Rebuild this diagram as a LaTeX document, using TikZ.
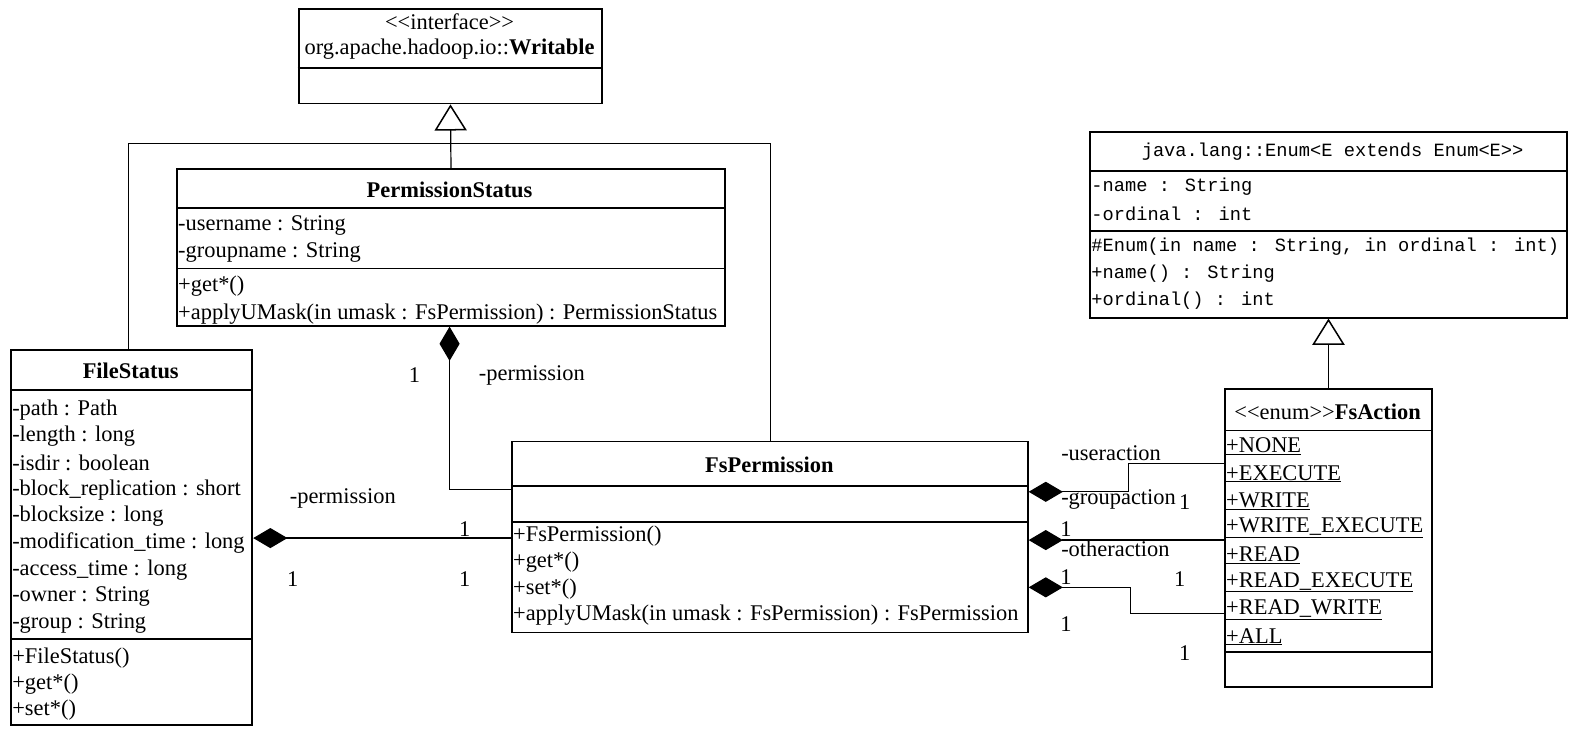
\documentclass[tikz,border=0pt]{standalone}
\usepackage{fontspec}
\setmainfont{Liberation Serif}
\newfontfamily\monof{Liberation Mono}
\usetikzlibrary{arrows.meta}
\newcommand\serifsz{\fontsize{22.3}{26}\selectfont}
\newcommand\monosz{\monof\fontsize{18.6}{23}\selectfont}
\newcommand\lt{<\kern0pt<}
\newcommand\gt{>\kern0pt>}
\begin{document}
\begin{tikzpicture}[x=1pt,y=-1pt,
  cls/.style={draw, line width=1.8pt, inner sep=0pt, anchor=north west},
  sep/.style={line width=1.8pt},
  conn/.style={line width=1.2pt},
  txt/.style={anchor=west, inner sep=0pt, font=\serifsz, yshift=-2pt},
  ctxt/.style={inner sep=0pt, font=\serifsz, yshift=-2pt},
  ttl/.style={inner sep=0pt, font=\serifsz\bfseries, yshift=-2pt},
  mono/.style={anchor=west, inner sep=0pt, font=\monosz, yshift=-1pt},
  gen/.style={conn, -{Triangle[open, length=26pt, width=32pt, line width=1.5pt]}},
  comp/.style={conn, {Diamond[length=34pt, width=20pt]}-},
]
\useasboundingbox (0,0) rectangle (1568,730);

% ---------- Writable ----------
\node[cls, minimum width=302pt, minimum height=94pt] (writ) at (296,8) {};
\draw[sep] (writ.west |- 0,68) -- (writ.east |- 0,68);
\node[ctxt] (writs) at (447,20) {\lt interface\gt};
\node[ctxt] (writn) at (447,47) {org.apache.hadoop.io::\textbf{Writable}};

% ---------- PermissionStatus ----------
\node[cls, minimum width=545pt, minimum height=156pt] (pstat) at (175,167) {};
\draw[sep] (pstat.west |- 0,207) -- (pstat.east |- 0,207);
\draw[sep] (pstat.west |- 0,267) -- (pstat.east |- 0,267);
\node[ttl] (pstatt) at (447,187) {PermissionStatus};
\node[txt] (ps1) at (177,222) {-username : String};
\node[txt] (ps2) at (177,249) {-groupname : String};
\node[txt] (ps3) at (177,283) {+get*()};
\node[txt] (ps4) at (177,310) {+applyUMask(in umask : FsPermission) : PermissionStatus};

% ---------- FileStatus ----------
\node[cls, minimum width=240pt, minimum height=373pt] (fstat) at (10,347) {};
\draw[sep] (fstat.west |- 0,388) -- (fstat.east |- 0,388);
\draw[sep] (fstat.west |- 0,635) -- (fstat.east |- 0,635);
\node[ttl] (fstatt) at (130,367) {FileStatus};
\node[txt] (fs1) at (12,406) {-path : Path};
\node[txt] (fs2) at (12,432) {-length : long};
\node[txt] (fs3) at (12,458) {-isdir : boolean};
\node[txt] (fs4) at (12,485) {-block\_replication : short};
\node[txt] (fs5) at (12,511) {-blocksize : long};
\node[txt] (fs6) at (12,538) {-modification\_time : long};
\node[txt] (fs7) at (12,565) {-access\_time : long};
\node[txt] (fs8) at (12,591) {-owner : String};
\node[txt] (fs9) at (12,618) {-group : String};
\node[txt] (fs10) at (12,652) {+FileStatus()};
\node[txt] (fs11) at (12,678) {+get*()};
\node[txt] (fs12) at (12,704) {+set*()};

% ---------- FsPermission ----------
\node[cls, minimum width=513pt, minimum height=190pt] (fsperm) at (508,438) {};
\draw[sep] (fsperm.west |- 0,483) -- (fsperm.east |- 0,483);
\draw[sep] (fsperm.west |- 0,519) -- (fsperm.east |- 0,519);
\node[ttl] (fspermt) at (765,460) {FsPermission};
\node[txt] (fp1) at (510,531) {+FsPermission()};
\node[txt] (fp2) at (510,557) {+get*()};
\node[txt] (fp3) at (510,584) {+set*()};
\node[txt] (fp4) at (510,610) {+applyUMask(in umask : FsPermission) : FsPermission};

% ---------- Enum ----------
\node[cls, minimum width=474pt, minimum height=185pt] (enum) at (1083,130) {};
\draw[sep] (enum.west |- 0,170) -- (enum.east |- 0,170);
\draw[sep] (enum.west |- 0,230) -- (enum.east |- 0,230);
\node[inner sep=0pt, font=\monosz, yshift=-1pt] (enumt) at (1325,150) {java.lang::Enum<E extends Enum<E>>};
\node[mono] (en1) at (1085,185) {-name : String};
\node[mono] (en2) at (1085,212) {-ordinal : int};
\node[mono] (en3) at (1085,244) {\#Enum(in name : String, in ordinal : int)};
\node[mono] (en4) at (1085,271) {+name() : String};
\node[mono] (en5) at (1085,298) {+ordinal() : int};

% ---------- FsAction ----------
\node[cls, minimum width=206pt, minimum height=296pt] (fsact) at (1217,386) {};
\draw[sep] (fsact.west |- 0,428) -- (fsact.east |- 0,428);
\draw[sep] (fsact.west |- 0,648) -- (fsact.east |- 0,648);
\node[ctxt] (fsactt) at (1320,407) {\lt enum\gt\textbf{FsAction}};
\node[txt] (fa1) at (1219,442) {\underline{+NONE}};
\node[txt] (fa2) at (1219,469) {\underline{+EXECUTE}};
\node[txt] (fa3) at (1219,496) {\underline{+WRITE}};
\node[txt] (fa4) at (1219,523) {\underline{+WRITE\_EXECUTE}};
\node[txt] (fa5) at (1219,550) {\underline{+READ}};
\node[txt] (fa6) at (1219,577) {\underline{+READ\_EXECUTE}};
\node[txt] (fa7) at (1219,604) {\underline{+READ\_WRITE}};
\node[txt] (fa8) at (1219,631) {\underline{+ALL}};

% ---------- generalizations ----------
\coordinate (bus) at (447,143);
\draw[gen] (pstat.north) -- (writ.south);
\draw[conn] (fstat.north -| 128,0) |- (bus);
\draw[conn] (fsperm.north -| 766,0) |- (bus);
\draw[gen] (fsact.north) -- (enum.south -| fsact.north);

% ---------- compositions ----------
\draw[comp] (pstat.south -| 447,0) |- (fsperm.west |- 0,487);
\node[ctxt] (m1) at (412,371) {1};
\node[txt] (r1) at (476,371) {-permission};

\draw[comp] (fstat.east |- 0,535) -- (fsperm.west |- 0,535);
\node[txt] (r2) at (288,494) {-permission};
\node[ctxt] (m2) at (462,524) {1};
\node[ctxt] (m3) at (291,574) {1};
\node[ctxt] (m4) at (462,574) {1};

\draw[comp] (fsperm.east |- 0,489) -- (1122,489) -- (1122,461) -- (fsact.west |- 0,461);
\draw[comp] (fsperm.east |- 0,537) -- (fsact.west |- 0,537);
\draw[comp] (fsperm.east |- 0,584) -- (1124,584) -- (1124,610) -- (fsact.west |- 0,610);

\node[txt] (r3) at (1055,449) {-useraction};
\node[txt] (r4) at (1055,495) {-groupaction};
\node[ctxt] (m5) at (1178,497) {1};
\node[ctxt] (m6) at (1060,524) {1};
\node[txt] (r5) at (1055,544) {-otheraction};
\node[ctxt] (m7) at (1060,572) {1};
\node[ctxt] (m8) at (1173,574) {1};
\node[ctxt] (m9) at (1060,619) {1};
\node[ctxt] (m10) at (1178,647) {1};
\end{tikzpicture}
\end{document}
